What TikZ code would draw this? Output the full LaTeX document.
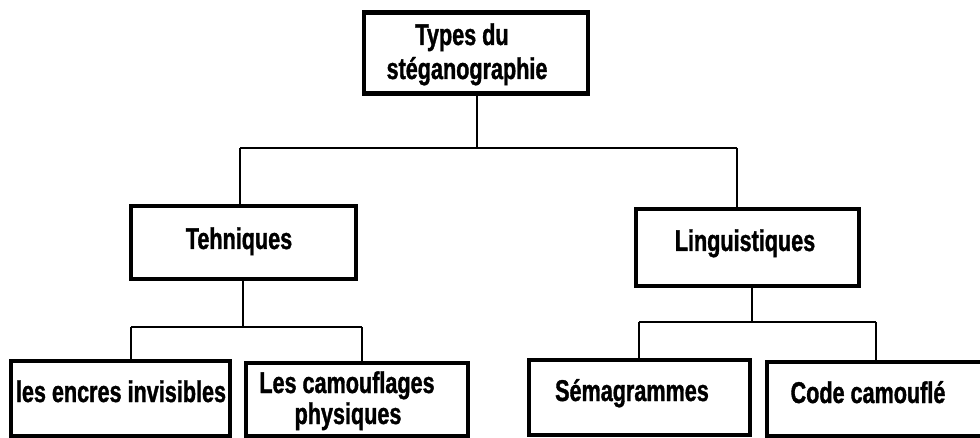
\documentclass[tikz,border=0pt]{standalone}
\usepackage{fontspec}
\setmainfont{Liberation Sans}[FakeStretch=0.72,BoldFeatures={FakeBold=1.2}]
\begin{document}
\begin{tikzpicture}[x=1pt,y=-1pt,
  box/.style={draw=black,line width=4.5pt,rectangle,inner sep=0pt},
  lbl/.style={font=\bfseries\fontsize{30}{34}\selectfont,anchor=base,inner sep=0pt},
  conn/.style={line width=2pt}]
\useasboundingbox (0,0) rectangle (980,438);
\clip (0,0) rectangle (980,438);
\fill[white] (0,0) rectangle (980,438);
% boxes
\node[box,minimum width=224pt,minimum height=81pt] (top) at (476,53) {};
\node[box,minimum width=225pt,minimum height=73pt] (tech) at (243.5,242.5) {};
\node[box,minimum width=223pt,minimum height=77pt] (ling) at (747.5,247.5) {};
\node[box,minimum width=219pt,minimum height=75pt] (enc) at (120.5,398.5) {};
\node[box,minimum width=222pt,minimum height=73pt] (cam) at (357,399.5) {};
\node[box,minimum width=221pt,minimum height=75pt] (sem) at (639.5,397.5) {};
\node[box,minimum width=218pt,minimum height=74pt] (code) at (876,399) {};
% labels
\node[lbl] (t1) at (462,45) {Types du};
\node[lbl] (t2) at (467,79) {stéganographie};
\node[lbl] (ltech) at (239,249) {Tehniques};
\node[lbl] (lling) at (745,251) {Linguistiques};
\node[lbl] (lenc) at (121,402) {les encres invisibles};
\node[lbl] (lcam1) at (347,393) {Les camouflages};
\node[lbl] (lcam2) at (348,424) {physiques};
\node[lbl] (lsem) at (632,401) {Sémagrammes};
\node[lbl] (lcode) at (868,403) {Code camouflé};
% junctions
\coordinate (j0) at (477,148);
\coordinate (jl) at (240,148);
\coordinate (jr) at (737,148);
\coordinate (k0) at (243,327);
\coordinate (kl) at (131,327);
\coordinate (kr) at (362,327);
\coordinate (m0) at (752,322);
\coordinate (ml) at (639,322);
\coordinate (mr) at (876,322);
% connectors
\draw[conn] (top.south -| j0) -- (j0);
\draw[conn] (jl) -- (jr);
\draw[conn] (jl) -- (tech.north -| jl);
\draw[conn] (jr) -- (ling.north -| jr);
\draw[conn] (tech.south -| k0) -- (k0);
\draw[conn] (kl) -- (kr);
\draw[conn] (kl) -- (enc.north -| kl);
\draw[conn] (kr) -- (cam.north -| kr);
\draw[conn] (ling.south -| m0) -- (m0);
\draw[conn] (ml) -- (mr);
\draw[conn] (ml) -- (sem.north -| ml);
\draw[conn] (mr) -- (code.north -| mr);
\end{tikzpicture}
\end{document}
